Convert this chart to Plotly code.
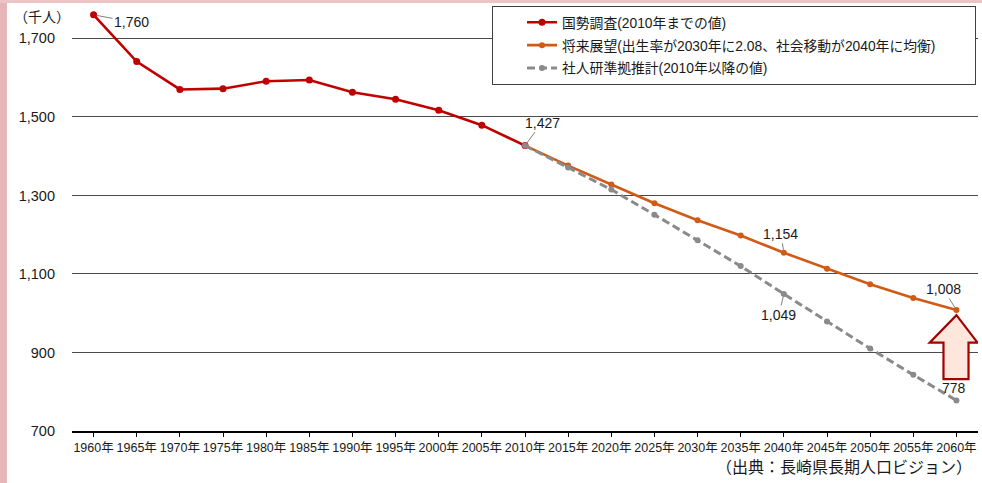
import plotly.graph_objects as go

years_census = [1960, 1965, 1970, 1975, 1980, 1985, 1990, 1995, 2000, 2005, 2010]
census = [1760, 1641, 1570, 1572, 1591, 1594, 1563, 1545, 1517, 1479, 1427]

years_proj = [2010, 2015, 2020, 2025, 2030, 2035, 2040, 2045, 2050, 2055, 2060]
future = [1427, 1376, 1328, 1280, 1237, 1198, 1154, 1113, 1074, 1039, 1008]
ipss = [1427, 1371, 1315, 1251, 1186, 1120, 1049, 979, 910, 843, 778]

tick_years = list(range(1960, 2061, 5))
tick_text = [f"{y}年" for y in tick_years]
y_ticks = [700, 900, 1100, 1300, 1500, 1700]

names = ["国勢調査(2010年までの値)",
         "将来展望(出生率が2030年に2.08、社会移動が2040年に均衡)" + "\u00a0" * 9,
         "社人研準拠推計(2010年以降の値)"]

FONT = "Liberation Sans, Arial, Noto Sans CJK JP, sans-serif"
RED = "#c00000"
ORANGE = "#d05a16"
GRAY = "#8a8a8a"

fig = go.Figure()
fig.add_trace(go.Scatter(x=years_census, y=census, mode="lines+markers", name=names[0],
                         legendgroup="a",
                         line=dict(color=RED, width=2.6), marker=dict(color=RED, size=7)))
fig.add_trace(go.Scatter(x=years_proj, y=future, mode="lines+markers", name=names[1],
                         legendgroup="b",
                         line=dict(color=ORANGE, width=2.6), marker=dict(color=ORANGE, size=6)))
fig.add_trace(go.Scatter(x=years_proj, y=ipss, mode="lines+markers", name=names[2],
                         legendgroup="c",
                         line=dict(color=GRAY, width=3, dash="8px,4px"), marker=dict(color=GRAY, size=6)))

# value labels with leader lines
labels = [
    (years_census[0], census[0], "1,760", 38, 7),
    (years_proj[0], ipss[0], "1,427", 17, -23),
    (years_proj[6], future[6], "1,154", -3, -19),
    (years_proj[6], ipss[6], "1,049", -5, 21),
    (years_proj[-1], future[-1], "1,008", -13, -21),
]
for x, y, t, ax, ay in labels:
    fig.add_annotation(x=x, y=y, text=t, showarrow=True, ax=ax, ay=ay,
                       arrowhead=0, arrowwidth=1, arrowcolor="#808080", standoff=3,
                       font=dict(family=FONT, size=14, color="#1a1a1a"))
fig.add_annotation(x=years_proj[-1], y=ipss[-1], text="778", showarrow=False,
                   xshift=-2, yshift=12, font=dict(family=FONT, size=14, color="#1a1a1a"))

# upward arrow under the last projected value
tx = years_proj[-1]
ty = future[-1] - 13
path = (f"M {tx},{ty} L {tx + 2.45},{ty - 70} L {tx + 1.4},{ty - 70} L {tx + 1.4},{ty - 163} "
        f"L {tx - 1.5},{ty - 163} L {tx - 1.5},{ty - 70} L {tx - 3.1},{ty - 70} Z")
fig.add_shape(type="path", path=path, xref="x", yref="y",
              fillcolor="#fde6dc", line=dict(color="#a50000", width=2.2), layer="above")

# unit label and source
fig.add_annotation(xref="paper", yref="paper", x=0.0, y=0.976, xanchor="right", yanchor="middle",
                   text="（千人）", showarrow=False, font=dict(family=FONT, size=14, color="#1a1a1a"))
fig.add_annotation(xref="paper", yref="paper", x=0.996, y=-0.087, xanchor="right", yanchor="middle",
                   text="（出典：長崎県長期人口ビジョン）", showarrow=False,
                   font=dict(family=FONT, size=16, color="#1a1a1a"))

# pink frame strips
fig.add_shape(type="rect", xref="paper", yref="paper", x0=-0.0795, x1=-0.0718, y0=-0.125, y1=1.02,
              fillcolor="#e6b5b8", line=dict(width=0), layer="above")
fig.add_shape(type="rect", xref="paper", yref="paper", x0=-0.0795, x1=1.01, y0=1.0094, y1=1.02,
              fillcolor="#ecc4c6", line=dict(width=0), layer="above")

fig.update_layout(
    width=982, height=483,
    margin=dict(l=72, r=4, t=7, b=52),
    paper_bgcolor="white", plot_bgcolor="white",
    font=dict(family=FONT, size=13, color="#1a1a1a"),
    showlegend=True,
    legend=dict(x=0.4636, y=1.003, xanchor="left", yanchor="top",
                bgcolor="white", bordercolor="#404040", borderwidth=1,
                font=dict(family=FONT, size=13.8, color="#1a1a1a"),
                traceorder="grouped", tracegroupgap=2, indentation=29),
    xaxis=dict(range=[1957.5, 2062.5], tickvals=tick_years, ticktext=tick_text,
               showgrid=False, zeroline=False, showline=True, linecolor="black", linewidth=1.5,
               ticks="outside", ticklen=4, tickcolor="black",
               tickfont=dict(family=FONT, size=12.5, color="#1a1a1a"), tickangle=0),
    yaxis=dict(range=[700, 1780], tickvals=y_ticks, tickformat=",",
               showgrid=True, gridcolor="#4a4a4a", gridwidth=1, zeroline=False,
               showline=False, ticks="", ticklabelstandoff=16,
               tickfont=dict(family=FONT, size=14.5, color="#1a1a1a")),
)

fig.write_html("out.html", config={"displayModeBar": False},
               post_script="document.body.style.margin='0';")
